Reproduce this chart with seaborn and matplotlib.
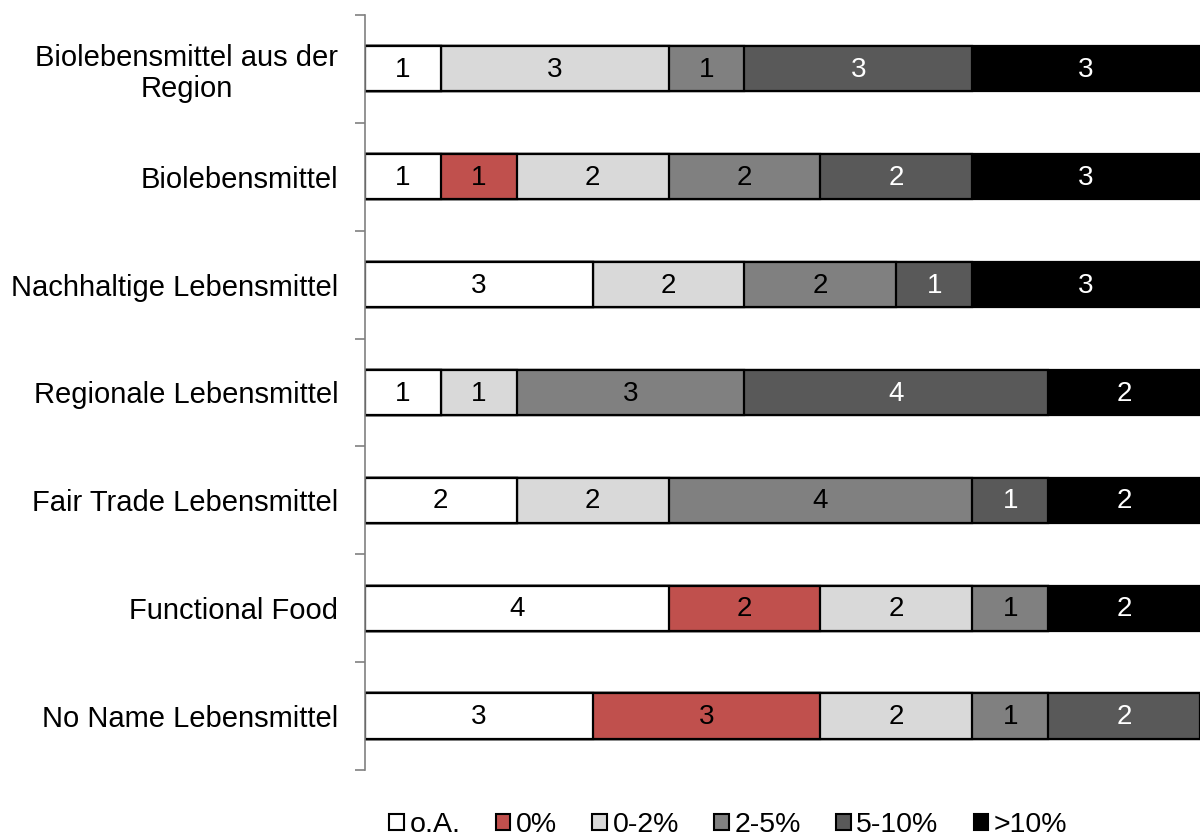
import numpy as np
import pandas as pd
import seaborn as sns
import matplotlib.pyplot as plt
from matplotlib.patches import Patch
from matplotlib.ticker import FixedLocator, NullLocator

categories = ['Biolebensmittel aus der\nRegion', 'Biolebensmittel', 'Nachhaltige Lebensmittel',
              'Regionale Lebensmittel', 'Fair Trade Lebensmittel', 'Functional Food',
              'No Name Lebensmittel']
series = ['o.A.', '0%', '0-2%', '2-5%', '5-10%', '>10%']
oa = [1, 1, 3, 1, 2, 4, 3]
p0 = [0, 1, 0, 0, 0, 2, 3]
p0_2 = [3, 2, 2, 1, 2, 2, 2]
p2_5 = [1, 2, 2, 3, 4, 1, 1]
p5_10 = [3, 2, 1, 4, 1, 0, 2]
p10 = [3, 3, 3, 2, 2, 2, 0]

colors = ['#FFFFFF', '#C0504D', '#D9D9D9', '#808080', '#595959', '#000000']
text_colors = ['black', 'black', 'black', 'black', 'white', 'white']

sns.set_style('white')
plt.rcParams['font.family'] = ['Liberation Sans', 'DejaVu Sans']
plt.rcParams['text.color'] = 'black'
plt.rcParams['ytick.color'] = 'black'

df = pd.DataFrame({'cat': categories, 'o.A.': oa, '0%': p0, '0-2%': p0_2,
                   '2-5%': p2_5, '5-10%': p5_10, '>10%': p10})
cum = df[series].cumsum(axis=1)

fig = plt.figure(figsize=(12, 8.4), dpi=100)
ax = fig.add_axes([0.304, 0.0833, 0.696, 0.899])

# draw cumulative bars from the longest to the shortest so they overlap into stacks
for i in range(len(series) - 1, -1, -1):
    s = series[i]
    sns.barplot(x=cum[s], y=df['cat'], orient='h', color=colors[i], edgecolor='black',
                linewidth=1.6, width=0.42, ax=ax, saturation=1)

for i, s in enumerate(series):
    for j in range(len(categories)):
        v = df[s][j]
        if v > 0:
            ax.text(cum[s][j] - v / 2, j + 0.01, str(v), ha='center', va='center',
                    fontsize=20, color=text_colors[i])

ax.set_xlim(0, 11)
ax.set_ylim(6.5, -0.5)
ax.set_xlabel('')
ax.set_ylabel('')
ax.xaxis.set_major_locator(NullLocator())
for sp in ['top', 'right', 'bottom']:
    ax.spines[sp].set_visible(False)
ax.spines['left'].set_color('#808080')
ax.spines['left'].set_linewidth(1.2)
ax.yaxis.set_minor_locator(FixedLocator(np.arange(-0.5, 7, 1)))
ax.tick_params(axis='y', which='major', length=0, labelsize=21, pad=19, labelcolor='black')
ax.tick_params(axis='y', which='minor', left=True, length=7, color='#808080', width=1.2,
               direction='out')
for lbl in ax.get_yticklabels():
    lbl.set_multialignment('center')
    lbl.set_linespacing(1.15)

handles = [Patch(facecolor=c, edgecolor='black', linewidth=1.5) for c in colors]
fig.legend(handles, series, loc='lower center', bbox_to_anchor=(0.607, -0.028), ncol=6,
           frameon=False, fontsize=20.5, handlelength=0.5, handleheight=0.5,
           handletextpad=0.2, columnspacing=1.25)

fig.savefig('out.png', dpi=100)
